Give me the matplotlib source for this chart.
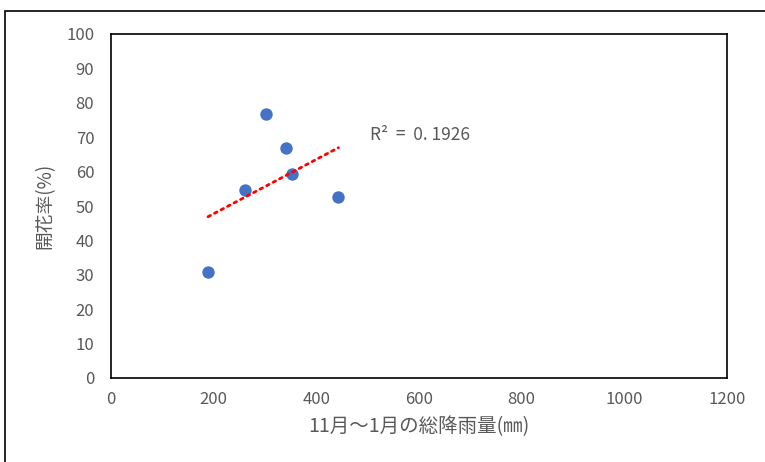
import matplotlib.pyplot as plt
import matplotlib.patches as patches
import numpy as np

plt.rcParams['font.family'] = ['Noto Sans CJK JP', 'DejaVu Sans']

# rainfall Nov-Jan (mm) vs flowering rate (%)
rainfall = [189, 262, 302, 341, 353, 443]
flowering = [30.8, 54.7, 76.7, 66.8, 59.4, 52.6]
r2_text = "R²  =  0. 1926"

x_ticks = [0, 200, 400, 600, 800, 1000, 1200]
y_ticks = [0, 10, 20, 30, 40, 50, 60, 70, 80, 90, 100]

grey = '#595959'

fig = plt.figure(figsize=(7.65, 4.62), dpi=100)
fig.patches.append(patches.Rectangle((5 / 765, -0.05), 1.0, 1 - 11 / 462 + 0.05,
                                     transform=fig.transFigure, fill=False,
                                     edgecolor='black', linewidth=1.2))

ax = fig.add_axes([111 / 765, 1 - 378 / 462, (727 - 111) / 765, (378 - 34) / 462])

ax.scatter(rainfall, flowering, s=80, color='#4472C4', zorder=3, linewidths=0)

# linear trend line
slope, intercept = np.polyfit(rainfall, flowering, 1)
xs = np.array([min(rainfall), max(rainfall)])
ax.plot(xs, slope * xs + intercept, color='red', linestyle=':', linewidth=2,
        dash_capstyle='round', zorder=4)

ax.text(505, 70.6, r2_text, fontsize=12.5, color=grey, va='center', ha='left')

ax.set_xlim(0, 1200)
ax.set_ylim(0, 100)
ax.set_xticks(x_ticks)
ax.set_yticks(y_ticks)
ax.tick_params(length=0, labelsize=12, labelcolor=grey)
ax.tick_params(axis='x', pad=9)
ax.tick_params(axis='y', pad=12)
for sp in ax.spines.values():
    sp.set_color('black')
    sp.set_linewidth(1.2)

ax.set_xlabel('11月～1月の総降雨量(㎜)', fontsize=14, color=grey, labelpad=6)
ax.set_ylabel('開花率(%)', fontsize=13.5, color=grey, labelpad=8)

fig.savefig('out.png', dpi=100)
